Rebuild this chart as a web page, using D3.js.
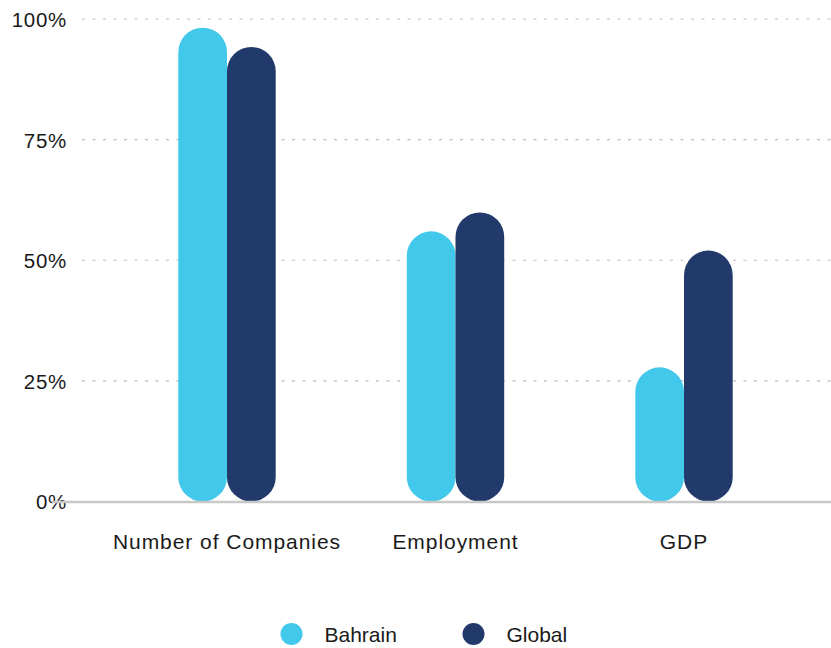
<!DOCTYPE html>
<html>
<head>
<meta charset="utf-8">
<script src="https://cdn.jsdelivr.net/npm/d3@7"></script>
<style>
  body { margin: 0; background: #fff; }
  svg text { font-family: "Liberation Sans", Arial, sans-serif; fill: #1a1a1a; }
</style>
</head>
<body>
<div id="chart"></div>
<script>
// data
var categories = ["Number of Companies", "Employment", "GDP"];
var seriesNames = ["Bahrain", "Global"];
var bahrainValues = [98.2, 56.0, 27.8];
var globalValues = [94.2, 59.9, 52.0];
var yTicks = [0, 25, 50, 75, 100];

var colors = { Bahrain: "#41c8eb", Global: "#223a6b" };

// canvas
var svgWidth = 831;
var svgHeight = 648;

var svg = d3.select("#chart")
    .append("svg")
    .attr("width", svgWidth)
    .attr("height", svgHeight);

// scales
var yScale = d3.scaleLinear()
    .domain([0, 100])
    .range([501.5, 19]);

var xScale = d3.scaleBand()
    .domain(categories)
    .range([112.75, 798.25])
    .padding(0);

var xInner = d3.scaleBand()
    .domain(seriesNames)
    .range([0, xScale.bandwidth()])
    .paddingInner(0)
    .paddingOuter(1.346);

// gridlines (dashed), skip zero
svg.append("g")
    .selectAll("line")
    .data(yTicks.filter(d => d > 0))
    .join("line")
    .attr("x1", 82)
    .attr("x2", svgWidth)
    .attr("y1", d => yScale(d))
    .attr("y2", d => yScale(d))
    .attr("stroke", "#bdbdbd")
    .attr("stroke-width", 1.2)
    .attr("stroke-dasharray", "3,7.5");

// y axis labels
var leftAxis = d3.axisLeft(yScale)
    .tickValues(yTicks)
    .tickFormat(d => d + "%")
    .tickSize(0)
    .tickPadding(0);

var yAxisG = svg.append("g")
    .attr("transform", "translate(67,0)")
    .call(leftAxis);
yAxisG.select(".domain").remove();
yAxisG.selectAll("text")
    .attr("font-size", 20.5)
    .attr("letter-spacing", 0.7)
    .attr("dy", "0.36em");

// bars
var rows = categories.map((c, i) => ({
    category: c,
    values: [
        { series: "Bahrain", value: bahrainValues[i] },
        { series: "Global", value: globalValues[i] }
    ]
}));

var bw = xInner.bandwidth();

svg.append("g")
    .selectAll("g")
    .data(rows)
    .join("g")
    .attr("transform", d => `translate(${xScale(d.category)},0)`)
    .selectAll("rect")
    .data(d => d.values)
    .join("rect")
    .attr("x", d => xInner(d.series))
    .attr("y", d => yScale(d.value))
    .attr("width", bw)
    .attr("height", d => yScale(0) - yScale(d.value))
    .attr("rx", bw / 2)
    .attr("ry", bw / 2)
    .attr("fill", d => colors[d.series]);

// baseline
svg.append("line")
    .attr("x1", 52)
    .attr("x2", svgWidth)
    .attr("y1", yScale(0) + 0.5)
    .attr("y2", yScale(0) + 0.5)
    .attr("stroke", "#c8c8c8")
    .attr("stroke-width", 2.5);

// x axis labels
var bottomAxis = d3.axisBottom(xScale)
    .tickSize(0)
    .tickPadding(0);

var xAxisG = svg.append("g")
    .attr("transform", "translate(0,549)")
    .call(bottomAxis);
xAxisG.select(".domain").remove();
xAxisG.selectAll("text")
    .attr("font-size", 21)
    .attr("letter-spacing", 0.95)
    .attr("dy", 0);

// legend
var legendX = [291.5, 473.5];
var legend = svg.append("g")
    .selectAll("g")
    .data(seriesNames)
    .join("g")
    .attr("transform", (d, i) => `translate(${legendX[i]},634)`);

legend.append("circle")
    .attr("r", 11)
    .attr("fill", d => colors[d]);

legend.append("text")
    .attr("x", 33)
    .attr("y", 7.5)
    .attr("font-size", 21)
    .text(d => d);
</script>
</body>
</html>
